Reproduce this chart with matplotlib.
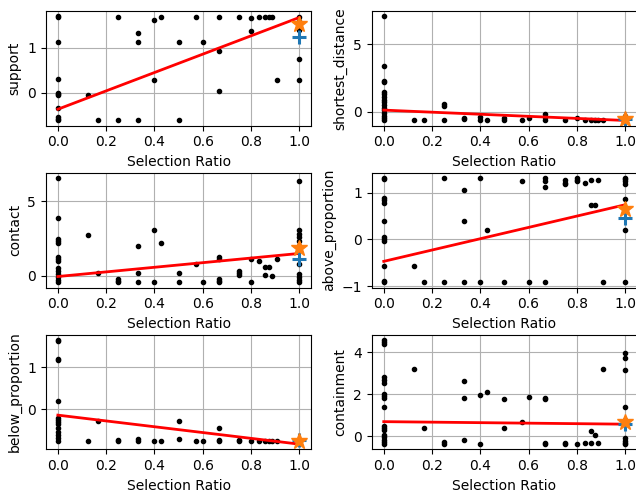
import numpy as np
import matplotlib
matplotlib.use("Agg")
import matplotlib.pyplot as plt
from matplotlib.ticker import MultipleLocator

# selection ratio values that show up as x positions
X0, X8, X6, X4, X3 = 0.0, 1/8, 1/6, 1/4, 1/3
X5, X37, X2 = 0.4, 3/7, 0.5
X47, X35, X23, X34 = 4/7, 0.6, 2/3, 3/4
X45, X56, X67, X78, X89, X1011, X1 = 0.8, 5/6, 6/7, 7/8, 8/9, 10/11, 1.0

names = ["support", "shortest_distance", "contact",
         "above_proportion", "below_proportion", "containment"]
y_steps = [1, 5, 5, 1, 1, 2]

# (x, y) pairs
support_pts = [
    (X0, 1.7), (X0, 1.67), (X0, 1.12), (X0, 0.3), (X0, 0.0), (X0, -0.03),
    (X0, -0.06), (X0, -0.35), (X0, -0.54), (X0, -0.58), (X0, -0.62),
    (X8, -0.05), (X6, -0.62), (X4, 1.69), (X4, -0.62),
    (X3, 1.32), (X3, 1.12), (X3, -0.62), (X5, 1.61), (X5, 0.29),
    (X37, 1.69), (X2, 1.12), (X2, -0.62), (X47, 1.69), (X35, 1.12),
    (X23, 1.69), (X23, 0.93), (X23, 0.03), (X34, 1.69),
    (X45, 1.66), (X45, 1.36), (X56, 1.69), (X67, 1.69), (X78, 1.69),
    (X89, 1.69), (X1011, 0.28),
    (X1, 1.69), (X1, 1.6), (X1, 1.4), (X1, 0.75), (X1, 0.28),
]
shortest_pts = [
    (X0, 7.1), (X0, 3.4), (X0, 2.3), (X0, 2.2), (X0, 1.5), (X0, 1.3),
    (X0, 1.1), (X0, 0.9), (X0, 0.7), (X0, 0.5), (X0, 0.3), (X0, 0.1),
    (X0, -0.1), (X0, -0.3), (X0, -0.45), (X0, -0.6),
    (X8, -0.6), (X6, -0.6), (X4, 0.6), (X4, 0.4), (X4, -0.6),
    (X3, -0.45), (X3, -0.55), (X5, -0.4), (X5, -0.6), (X37, -0.6),
    (X2, -0.5), (X2, -0.6), (X47, -0.6), (X35, -0.5),
    (X23, -0.2), (X23, -0.4), (X23, -0.6), (X34, -0.6), (X45, -0.5),
    (X56, -0.6), (X67, -0.6), (X78, -0.6), (X89, -0.6), (X1011, -0.6),
    (X1, -0.5), (X1, -0.3),
]
contact_pts = [
    (X0, 6.56), (X0, 3.85), (X0, 2.44), (X0, 2.3), (X0, 2.16), (X0, 1.27),
    (X0, 1.15), (X0, 1.0), (X0, 0.53), (X0, 0.3), (X0, 0.1), (X0, -0.1),
    (X0, -0.3), (X0, -0.42),
    (X8, 2.76), (X6, 0.2), (X4, -0.2), (X4, -0.33), (X4, -0.45),
    (X3, 1.98), (X3, 0.16), (X3, -0.45), (X5, 3.04), (X5, -0.45),
    (X37, 2.16), (X2, 0.16), (X2, -0.45), (X47, 0.8), (X35, -0.45),
    (X23, 1.27), (X23, 1.1), (X23, -0.2), (X23, -0.33), (X23, -0.45),
    (X34, 0.3), (X34, 0.15), (X34, 0.05), (X45, 1.09), (X45, -0.45),
    (X56, 0.96), (X67, 0.6), (X67, 0.04), (X78, 0.6), (X89, -0.02),
    (X1011, 1.13),
    (X1, 6.38), (X1, 3.05), (X1, 2.8), (X1, 2.6), (X1, 2.3), (X1, 2.0),
    (X1, 0.8), (X1, 0.1), (X1, -0.1), (X1, -0.3), (X1, -0.45),
]
above_pts = [
    (X0, 1.32), (X0, 1.3), (X0, 0.9), (X0, 0.85), (X0, 0.79), (X0, 0.4),
    (X0, 0.06), (X0, 0.0), (X0, -0.035), (X0, -0.57), (X0, -0.9), (X0, -0.92),
    (X8, -0.57), (X6, -0.91), (X4, 1.32), (X4, -0.91),
    (X3, 1.06), (X3, 0.4), (X3, -0.91), (X5, 1.32), (X5, -0.91),
    (X37, 0.2), (X2, -0.91), (X47, 1.26), (X35, -0.91),
    (X23, 1.31), (X23, 1.25), (X23, 1.12), (X23, -0.91),
    (X34, 1.27), (X34, 1.22), (X34, 1.18), (X45, 1.31), (X45, 1.27),
    (X45, 1.25), (X56, 1.21), (X67, 1.27), (X67, 0.74), (X78, 0.74),
    (X89, 1.27), (X1011, -0.91),
    (X1, 1.32), (X1, 1.3), (X1, 1.25), (X1, 1.2), (X1, 0.87), (X1, 0.2),
    (X1, -0.91),
]
below_pts = [
    (X0, 1.65), (X0, 1.62), (X0, 1.2), (X0, 1.16), (X0, 0.2), (X0, -0.2),
    (X0, -0.25), (X0, -0.3), (X0, -0.35), (X0, -0.45), (X0, -0.55),
    (X0, -0.62), (X0, -0.68), (X0, -0.75),
    (X8, -0.75), (X6, -0.29), (X4, -0.73), (X4, -0.76),
    (X3, -0.7), (X3, -0.75), (X5, -0.75), (X37, -0.75),
    (X2, -0.29), (X2, -0.7), (X47, -0.75), (X35, -0.75),
    (X23, -0.45), (X23, -0.72), (X23, -0.76), (X34, -0.73), (X34, -0.76),
    (X45, -0.75), (X56, -0.75), (X67, -0.75), (X78, -0.75), (X89, -0.75),
    (X1011, -0.75), (X1, -0.75),
]
containment_pts = [
    (X0, 4.59), (X0, 4.5), (X0, 4.39), (X0, 2.8), (X0, 2.7), (X0, 2.55),
    (X0, 2.0), (X0, 1.9), (X0, 1.83), (X0, 1.41), (X0, 0.5), (X0, 0.4),
    (X0, 0.3), (X0, 0.05), (X0, -0.05), (X0, -0.15), (X0, -0.25), (X0, -0.37),
    (X8, 3.19), (X6, 0.39), (X4, -0.28), (X4, -0.35),
    (X3, 2.61), (X3, 1.81), (X3, -0.17), (X5, 1.95), (X5, -0.35),
    (X37, 2.09), (X2, 1.8), (X2, 0.39), (X47, 0.69), (X35, 1.89),
    (X23, 1.83), (X23, 1.8), (X23, -0.32), (X23, -0.36),
    (X34, -0.3), (X34, -0.36), (X45, -0.35), (X56, -0.3),
    (X67, 0.25), (X67, -0.3), (X78, 0.05), (X89, -0.3), (X1011, 3.19),
    (X1, 3.95), (X1, 3.73), (X1, 3.17), (X1, 1.42), (X1, 0.8),
    (X1, -0.1), (X1, -0.2), (X1, -0.3), (X1, -0.35),
]
points = [support_pts, shortest_pts, contact_pts,
          above_pts, below_pts, containment_pts]

# fitted line: value at x=0 and at x=1
fit_start = [-0.37, 0.12, -0.06, -0.47, -0.14, 0.70]
fit_end = [1.67, -0.65, 1.49, 0.745, -0.83, 0.58]
# markers at x=1
plus_y = [1.24, -0.55, 1.09, 0.45, -0.72, 0.60]
star_y = [1.53, -0.55, 1.87, 0.66, -0.76, 0.68]

fig, axes = plt.subplots(3, 2, figsize=(6.36, 4.96), dpi=100)
fig.subplots_adjust(left=0.072, right=1.002, bottom=0.094, top=0.978,
                    wspace=0.227, hspace=0.41)
for i, ax in enumerate(axes.flat):
    xs = [p[0] for p in points[i]]
    ys = [p[1] for p in points[i]]
    ax.plot(xs, ys, 'k.')
    ax.plot([0, 1], [fit_start[i], fit_end[i]], 'r-', lw=2)
    ax.plot(1, plus_y[i], '+', color='C0', ms=10, mew=2.2)
    ax.plot(1, star_y[i], '*', color='C1', ms=12)
    ax.xaxis.set_major_locator(MultipleLocator(0.2))
    ax.yaxis.set_major_locator(MultipleLocator(y_steps[i]))
    ax.set_xlabel("Selection Ratio")
    ax.set_ylabel(names[i])
    ax.grid(True)

plt.savefig("out.png")
